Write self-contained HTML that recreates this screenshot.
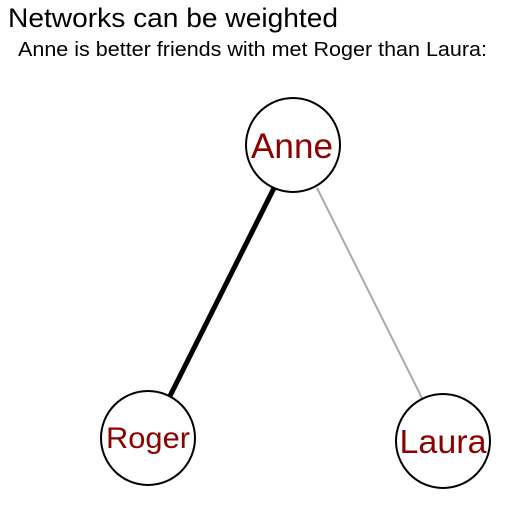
<!DOCTYPE html>
<html><head><meta charset="utf-8"><style>
html,body{margin:0;padding:0;background:#fff;width:529px;height:505px;overflow:hidden}
</style></head><body>
<svg width="529" height="505" xmlns="http://www.w3.org/2000/svg" font-family="Liberation Sans, sans-serif">
<text x="8" y="27" font-size="27" fill="#000" textLength="330" lengthAdjust="spacingAndGlyphs">Networks can be weighted</text>
<text x="18" y="56" font-size="20" fill="#000" textLength="469" lengthAdjust="spacingAndGlyphs">Anne is better friends with met Roger than Laura:</text>
<line x1="275" y1="186" x2="169" y2="398" stroke="#000" stroke-width="5"/>
<line x1="317" y1="188" x2="422" y2="398" stroke="#aaa" stroke-width="2"/>
<circle cx="293" cy="145" r="47" fill="#fff" stroke="#000" stroke-width="2"/>
<circle cx="148" cy="438" r="47" fill="#fff" stroke="#000" stroke-width="2"/>
<circle cx="443" cy="441" r="47" fill="#fff" stroke="#000" stroke-width="2"/>
<text x="292" y="158" font-size="35" fill="#8b0000" text-anchor="middle" textLength="82" lengthAdjust="spacingAndGlyphs">Anne</text>
<text x="148" y="448" font-size="30" fill="#8b0000" text-anchor="middle" textLength="84" lengthAdjust="spacingAndGlyphs">Roger</text>
<text x="443" y="453" font-size="33" fill="#8b0000" text-anchor="middle" textLength="87" lengthAdjust="spacingAndGlyphs">Laura</text>
</svg>
</body></html>
